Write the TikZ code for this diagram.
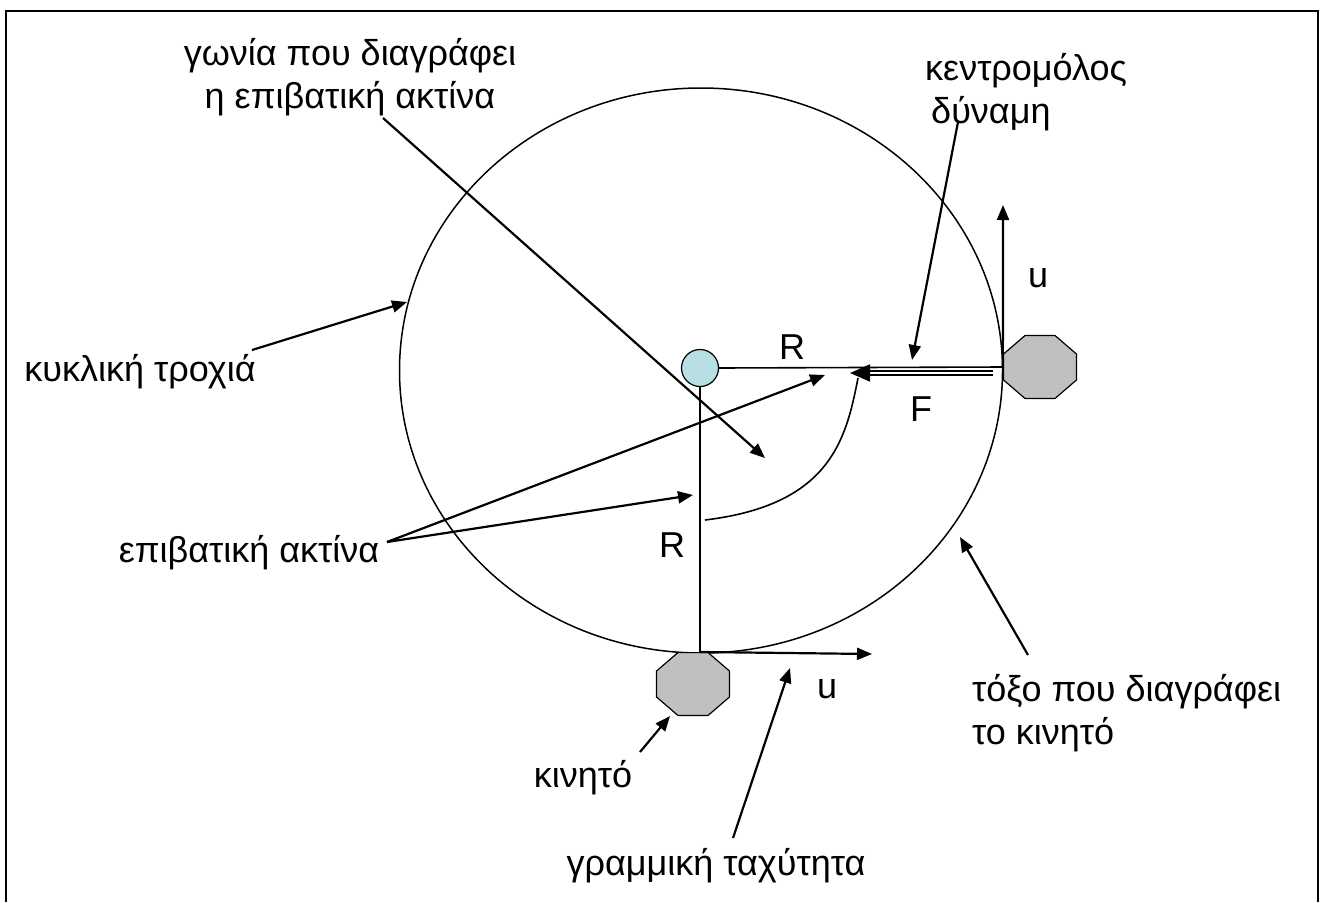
\documentclass[tikz,border=0pt]{standalone}
\usepackage{fontspec}
\setmainfont{Liberation Sans}
\usetikzlibrary{arrows.meta,shapes.geometric,calc}

\definecolor{hubblue}{RGB}{184,224,228}
\definecolor{bodygray}{RGB}{192,192,192}

\begin{document}
\begin{tikzpicture}[x=1pt,y=-1pt,
lbl/.style={font=\fontsize{36}{43}\selectfont, inner sep=0pt},
arr/.style={-{Triangle[length=15pt,width=12pt]}, line width=2.2pt},
farr/.style={-{Triangle[length=20pt,width=17pt]}, line width=1.8pt, double, double distance=2pt},
octa/.style={draw, regular polygon, regular polygon sides=8, fill=bodygray, minimum size=68pt, inner sep=0pt, line width=1.2pt}
]
\useasboundingbox (0,0) rectangle (1321,902);
\draw[line width=2.5pt] (6,902) -- (6,11) -- (1318,11) -- (1318,902);

% orbit and moving bodies
\draw[line width=1.5pt] (701,370.5) ellipse [x radius=301.5pt, y radius=282.5pt];
\begin{scope}[shift={(1040,367)}, xscale=1.16]
\node[octa, transform shape] (mR) at (0,0) {};
\end{scope}
\begin{scope}[shift={(693,684)}, xscale=1.16]
\node[octa, transform shape] (mB) at (0,0) {};
\end{scope}
\node[draw, circle, fill=hubblue, minimum size=37pt, inner sep=0pt, line width=1.2pt] (hub) at (700,368) {};

% radii
\draw[line width=1.6pt] (hub.east) -- (mR.west);
\draw[line width=1.6pt] (hub.south) -- (hub.south |- mB.north);

% velocities and force
\coordinate (uR) at (1003,205);
\coordinate (uB) at (872,654);
\coordinate (fT) at (850,373);
\draw[arr] (mR.west) -- (uR);
\draw[arr] (hub.south |- mB.north) -- (uB);
\draw[farr, shorten <=10pt] ($(mR.west)+(0,6)$) -- (fT);

% angle
\coordinate (c1) at (705,520);
\coordinate (c2) at (858,378);
\draw[line width=1.6pt] (c1) .. controls (830,505) and (846,440) .. (c2);

\node[lbl] (r1) at (792,347) {R};
\node[lbl] (r2) at (672,545) {R};
\node[lbl] (fl) at (921,409) {F};
\node[lbl] (u1) at (1038,278) {u};
\node[lbl] (u2) at (827,689) {u};

% labels
\node[lbl, align=center] (ang) at (350,77) {γωνία που διαγράφει\\ η επιβατική ακτίνα};
\node[lbl, align=left, anchor=west] (cen) at (925,92) {κεντρομόλος\\ \,δύναμη};
\node[lbl] (cyk) at (140,372) {κυκλική τροχιά};
\node[lbl] (rad) at (249,553) {επιβατική ακτίνα};
\node[lbl] (kin) at (583,778) {κινητό};
\node[lbl] (vel) at (716,866) {γραμμική ταχύτητα};
\node[lbl, align=left, anchor=west] (arc) at (972,713) {τόξο που διαγράφει\\ το κινητό};

% pointers
\draw[arr] (383,118) -- (765,458);
\draw[arr] (958,122) -- (912,360);
\draw[arr] (252,350) -- (407,302);
\draw[arr] (387,542) -- (825,375);
\draw[arr] (387,542) -- (693,495);
\draw[arr] (640,752) -- (670,716);
\draw[arr] (733,838) -- (790,668);
\draw[arr] (1028,655) -- (960,537);
\end{tikzpicture}
\end{document}
